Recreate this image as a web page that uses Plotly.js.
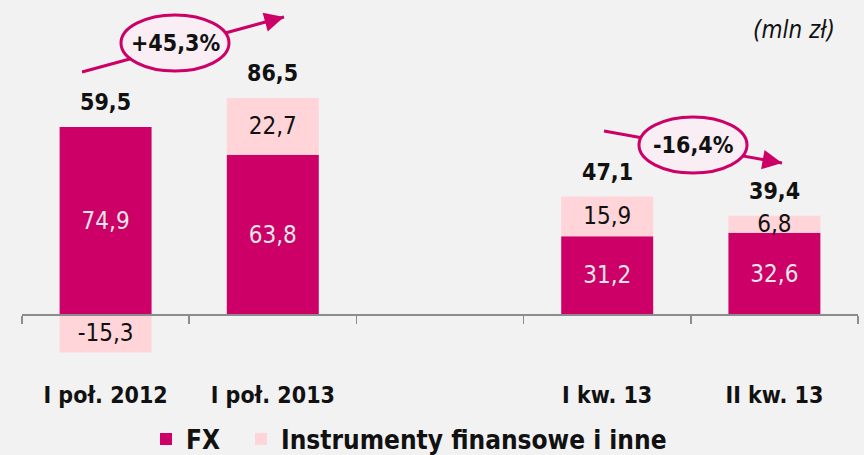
<!DOCTYPE html>
<html>
<head>
<meta charset="utf-8">
<script src="https://cdn.plot.ly/plotly-3.0.1.min.js"></script>
<style>html,body{margin:0;padding:0;background:#f2f2f2;}#chart{width:864px;height:455px;}</style>
</head>
<body>
<div id="chart"></div>
<script>
const categories = ['I poł. 2012', 'I poł. 2013', ' ', 'I kw. 13', 'II kw. 13'];
const fxValues = [74.9, 63.8, null, 31.2, 32.6];
const instrValues = [-15.3, 22.7, null, 15.9, 6.8];
const totals = [59.5, 86.5, null, 47.1, 39.4];
const changeLabels = ['+45,3%', '-16,4%'];
const seriesNames = ['FX', 'Instrumenty finansowe i inne'];
const unitLabel = '(mln zł)';

const FONT = '"DejaVu Sans Condensed", "DejaVu Sans", sans-serif';
const MAG = '#cc0066';
const PINK = '#ffd5d9';

// plot area geometry (pixels) for decorative paper-coordinates
const L = 22, R = 6, T = 5, B = 91, W = 864, H = 455;
const pw = W - L - R, ph = H - T - B;
const px = x => (x - L) / pw;
const py = y => (H - B - y) / ph;

const traces = [
  {
    type: 'bar', name: seriesNames[0], x: categories, y: fxValues, legend: 'legend',
    marker: {color: MAG}, width: 0.55,
    texttemplate: '%{y:.1f}', textposition: 'inside', insidetextanchor: 'middle',
    constraintext: 'none',
    textfont: {family: FONT, size: 24, color: '#e6e6e6'},
    hoverinfo: 'skip'
  },
  {
    type: 'bar', name: seriesNames[1], x: categories, y: instrValues, legend: 'legend2',
    marker: {color: PINK}, width: 0.55,
    texttemplate: '%{y:.1f}', textposition: 'inside', insidetextanchor: 'middle',
    constraintext: 'none',
    textfont: {family: FONT, size: 24, color: '#111111'},
    hoverinfo: 'skip'
  },
  {
    type: 'scatter', mode: 'markers', x: categories, y: categories.map(() => null),
    xaxis: 'x2', yaxis: 'y', showlegend: false, hoverinfo: 'skip',
    marker: {opacity: 0}
  }
];

const annotations = [];
categories.forEach((c, i) => {
  if (totals[i] === null) return;
  const top = Math.max(0, fxValues[i]) + Math.max(0, instrValues[i]);
  annotations.push({
    x: c, y: top, xref: 'x', yref: 'y', yanchor: 'bottom', yshift: 10,
    text: '<b>' + totals[i].toFixed(1).replace('.', ',') + '</b>', showarrow: false,
    font: {family: FONT, size: 23, color: '#111111'}
  });
});

// change markers (ellipses with arrows) - decorative, pixel placed
const deco = [
  {c: [175, 43], rx: 54, ry: 28, start: [82, 72], tip: [284, 17], txt: changeLabels[0]},
  {c: [693, 145], rx: 54, ry: 28, start: [604, 131], tip: [782, 163], txt: changeLabels[1]}
];
const shapes = [];
deco.forEach(d => {
  shapes.push({type: 'line', xref: 'paper', yref: 'paper', x0: px(d.start[0]), y0: py(d.start[1]),
    x1: px(d.tip[0]), y1: py(d.tip[1]), line: {color: MAG, width: 3}, layer: 'above'});
  shapes.push({type: 'circle', xref: 'paper', yref: 'paper',
    x0: px(d.c[0] - d.rx), x1: px(d.c[0] + d.rx), y0: py(d.c[1] + d.ry), y1: py(d.c[1] - d.ry),
    fillcolor: '#f9eef3', line: {color: MAG, width: 3}, layer: 'above'});
  annotations.push({xref: 'paper', yref: 'paper', x: px(d.c[0]), y: py(d.c[1]),
    xanchor: 'center', yanchor: 'middle',
    text: '<b>' + d.txt + '</b>', showarrow: false, font: {family: FONT, size: 23, color: '#111111'}});
  const dx = d.tip[0] - d.start[0], dy = d.tip[1] - d.start[1];
  const len = Math.sqrt(dx * dx + dy * dy);
  annotations.push({xref: 'paper', yref: 'paper', x: px(d.tip[0]), y: py(d.tip[1]),
    ax: -dx / len * 20, ay: -dy / len * 20, text: '', showarrow: true,
    arrowhead: 2, arrowsize: 1.3, arrowwidth: 3, arrowcolor: MAG});
});

annotations.push({xref: 'paper', yref: 'paper', x: px(837), y: py(30), xanchor: 'right', yanchor: 'middle',
  text: '<i>' + unitLabel + '</i>', showarrow: false, font: {family: FONT, size: 24, color: '#111111'}});

const zeroPos = py(314.25);
const legendFont = {family: FONT, size: 26, color: '#111111', weight: 'bold'};

const layout = {
  width: W, height: H,
  margin: {l: L, r: R, t: T, b: B, autoexpand: false},
  paper_bgcolor: '#f2f2f2', plot_bgcolor: '#f2f2f2',
  separators: ', ',
  barmode: 'relative',
  showlegend: true,
  legend: {orientation: 'h', x: px(146), xanchor: 'left', y: py(439), yanchor: 'middle',
    font: legendFont, bgcolor: 'rgba(0,0,0,0)', itemwidth: 30},
  legend2: {orientation: 'h', x: px(241), xanchor: 'left', y: py(439), yanchor: 'middle',
    font: legendFont, bgcolor: 'rgba(0,0,0,0)', itemwidth: 30},
  xaxis: {type: 'category', categoryorder: 'array', categoryarray: categories,
    range: [-0.5, 4.5], anchor: 'free', position: zeroPos,
    showline: true, linecolor: '#8c8c8c', linewidth: 1.5,
    ticks: 'outside', tickson: 'boundaries', ticklen: 8, tickcolor: '#8c8c8c', tickwidth: 1.5,
    showticklabels: false, showgrid: false, zeroline: false, fixedrange: true},
  xaxis2: {type: 'category', categoryorder: 'array', categoryarray: categories,
    matches: 'x', overlaying: 'x', anchor: 'y', side: 'bottom',
    showline: false, ticks: '', showgrid: false, zeroline: false, ticklabelstandoff: 15,
    tickfont: {family: FONT, size: 23, color: '#111111', weight: 'bold'}},
  yaxis: {range: [(314.25 - (H - B)) / 2.5, (314.25 - T) / 2.5], visible: false, fixedrange: true},
  annotations: annotations,
  shapes: shapes,
  font: {family: FONT}
};

Plotly.newPlot('chart', traces, layout, {displayModeBar: false, staticPlot: true});
</script>
</body>
</html>
